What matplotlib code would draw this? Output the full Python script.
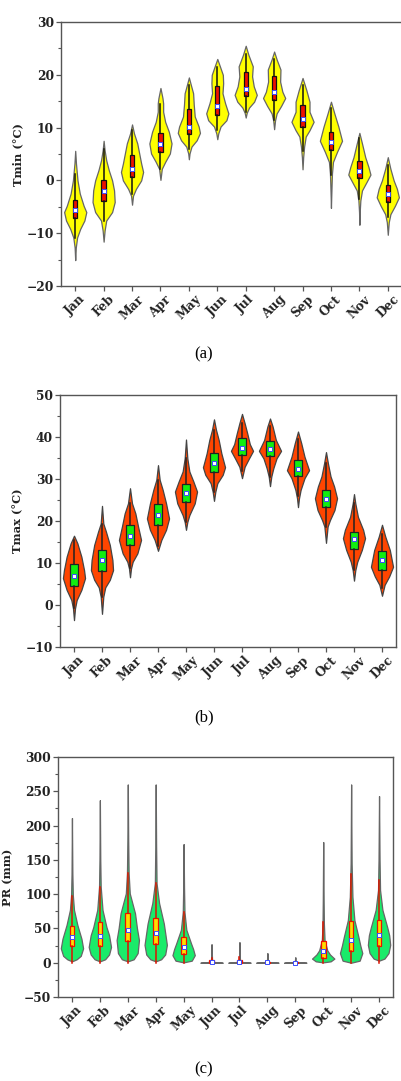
import numpy as np
import matplotlib
matplotlib.use("Agg")
import matplotlib.pyplot as plt
from matplotlib.ticker import MultipleLocator

plt.rcParams['font.family'] = ['DejaVu Serif']

months = ['Jan', 'Feb', 'Mar', 'Apr', 'May', 'Jun',
          'Jul', 'Aug', 'Sep', 'Oct', 'Nov', 'Dec']

# ---------------- (a) Tmin ----------------
tmin_q1 = [-7.2, -3.9, 0.6, 5.3, 8.7, 12.3, 15.9, 15.2, 10.2, 5.7, 0.5, -4.0]
tmin_med = [-5.7, -2.1, 2.2, 6.9, 10.2, 14.0, 17.3, 16.7, 11.6, 7.3, 1.7, -2.5]
tmin_q3 = [-3.8, 0.0, 4.8, 8.9, 13.5, 17.8, 20.6, 19.7, 14.3, 9.1, 3.6, -0.8]
tmin_wlo = [-11.0, -7.6, -2.5, 2.2, 6.0, 9.5, 13.0, 11.5, 5.5, 1.0, -3.5, -7.0]
tmin_whi = [1.3, 6.0, 9.5, 14.5, 18.0, 21.5, 24.0, 23.0, 18.0, 13.8, 8.0, 3.0]
tmin_dens_y = [
    [5.6, 3.2, 0.0, -2.5, -4.8, -6.0, -7.6, -9.2, -10.8, -12.7, -15.1],
    [7.5, 5.7, 3.8, 1.9, 0.0, -1.9, -4.1, -6.0, -7.6, -9.5, -11.6],
    [10.6, 8.9, 7.0, 5.1, 3.2, 1.6, 0.0, -1.6, -2.9, -4.6],
    [17.5, 15.6, 14.6, 13.0, 11.1, 9.2, 7.0, 5.1, 3.5, 2.2, 0.1],
    [19.5, 18.1, 16.5, 14.3, 12.1, 10.2, 9.0, 7.6, 6.4, 5.1, 4.0],
    [23.0, 21.6, 20.0, 18.4, 16.5, 14.6, 12.7, 11.4, 10.2, 8.9, 7.8],
    [25.5, 23.8, 21.6, 19.7, 17.8, 16.2, 14.9, 13.8, 12.8, 11.9],
    [24.4, 22.9, 21.0, 18.7, 16.8, 15.6, 14.1, 12.7, 11.4, 9.7],
    [19.4, 17.1, 14.9, 13.0, 11.1, 9.5, 8.3, 6.4, 4.4, 2.1],
    [14.9, 12.7, 10.2, 7.5, 5.4, 3.5, 1.3, -0.6, -3.2, -5.2],
    [9.0, 7.0, 4.4, 2.5, 1.1, -0.3, -1.9, -3.8, -6.0, -8.4],
    [4.4, 2.2, 0.0, -1.6, -3.2, -4.8, -6.4, -7.9, -10.3],
]
tmin_dens_w = [
    [0, 2, 6, 12, 22, 29, 24, 13, 5, 1.5, 0],
    [0, 3, 8, 16, 26, 32, 34, 26, 8, 3, 0],
    [0, 6, 16, 22, 28, 34, 28, 12, 3, 0],
    [0, 6, 8, 8, 14, 25, 33, 28, 14, 4, 0],
    [0, 6, 13, 15, 18, 30, 34, 24, 8, 2, 0],
    [0, 8, 17, 18, 16, 24, 34, 28, 10, 3, 0],
    [0, 8, 21, 19, 24, 33, 25, 10, 3, 0],
    [0, 8, 20, 19, 26, 35, 22, 8, 3, 0],
    [0, 12, 22, 22, 35, 22, 10, 5, 2, 0],
    [0, 10, 22, 33, 18, 6, 3, 2, 0.8, 0],
    [0, 8, 18, 28, 34, 22, 8, 3, 1, 0],
    [0, 8, 18, 28, 34, 22, 8, 3, 0],
]

# ---------------- (b) Tmax ----------------
tmax_q1 = [4.6, 8.2, 14.2, 19.0, 24.6, 31.7, 35.6, 35.5, 30.7, 23.3, 13.3, 8.3]
tmax_med = [6.9, 10.6, 16.4, 21.4, 26.7, 33.7, 37.5, 37.1, 32.5, 25.2, 15.6, 10.6]
tmax_q3 = [9.7, 13.1, 19.0, 24.0, 28.7, 36.1, 39.7, 39.1, 34.5, 27.4, 17.5, 12.9]
tmax_wlo = [-0.8, 2.0, 8.7, 14.0, 19.8, 27.0, 32.0, 30.5, 26.0, 18.6, 8.3, 4.0]
tmax_whi = [15.5, 19.4, 24.2, 29.8, 35.0, 41.7, 43.3, 42.5, 39.5, 33.7, 24.2, 17.0]
tmax_dens_y = [
    [16.5, 14.7, 11.5, 8.3, 6.4, 3.6, 1.2, -0.8, -3.6],
    [23.6, 19.4, 17.5, 14.3, 10.7, 8.3, 6.0, 4.2, 2.0, -2.1],
    [27.8, 24.2, 21.8, 18.7, 15.5, 12.3, 10.3, 8.7, 6.6],
    [33.3, 29.8, 27.4, 24.2, 20.6, 17.9, 15.5, 12.9],
    [39.4, 34.9, 31.8, 29.4, 27.0, 24.2, 21.4, 19.8, 17.9],
    [44.2, 41.7, 39.3, 36.1, 32.8, 31.0, 29.0, 27.0, 24.8],
    [45.5, 43.3, 40.9, 38.3, 36.7, 34.7, 32.9, 30.2],
    [44.4, 42.5, 39.3, 36.7, 34.9, 32.5, 30.6, 28.3],
    [41.3, 38.5, 35.3, 32.1, 30.2, 27.4, 25.4, 23.3],
    [36.4, 33.7, 30.6, 28.2, 25.4, 22.6, 20.2, 18.7, 14.8],
    [26.4, 24.2, 21.0, 17.9, 15.9, 13.1, 10.3, 8.3, 5.8],
    [19.1, 16.3, 13.1, 9.1, 6.8, 4.8, 2.2],
]
tmax_dens_w = [
    [0, 10, 22, 30, 33, 22, 8, 3, 0],
    [0, 4, 12, 24, 32, 34, 24, 10, 4, 0],
    [0, 6, 16, 24, 33, 22, 8, 3, 0],
    [0, 5, 14, 24, 33, 24, 10, 0],
    [0, 4, 10, 22, 33, 26, 10, 4, 0],
    [0, 6, 14, 22, 33, 26, 10, 4, 0],
    [0, 8, 16, 24, 34, 20, 8, 0],
    [0, 8, 18, 34, 20, 10, 4, 0],
    [0, 10, 20, 34, 20, 8, 3, 0],
    [0, 6, 14, 25, 34, 26, 12, 5, 0],
    [0, 4, 12, 28, 34, 24, 10, 4, 0],
    [0, 10, 24, 34, 22, 8, 0],
]

# ---------------- (c) PR ----------------
pr_q1 = [24, 24, 32, 28, 13, 0.2, 0.2, 0.0, 0.0, 7, 17, 24]
pr_med = [38, 39, 47, 44, 23, 1.5, 1.5, 0.5, 0.3, 17.5, 33, 40]
pr_q3 = [54, 59, 72, 65, 37, 4.5, 4.0, 1.0, 0.8, 32, 61, 63]
pr_wlo = [0, 0, 0, 0, 0, 0, 0, 0, 0, 0, 0, 0]
pr_whi = [98, 110, 131, 116, 74, 7, 8, 2, 1, 60, 130, 121]
pr_dens_y = [
    [2, 5, 10, 21, 35, 55, 77, 99, 130, 211],
    [2, 5, 12, 23, 40, 52, 77, 111, 150, 237],
    [2, 5, 14, 33, 50, 72, 101, 131, 180, 260],
    [2, 5, 12, 26, 40, 57, 87, 116, 170, 260],
    [0.5, 3, 11, 20, 28, 48, 74, 110, 173],
    [0, 1, 2, 5, 12, 27],
    [0, 1, 2, 5, 12, 30],
    [0, 1, 2, 5, 14],
    [0, 1, 2, 4, 8],
    [0.5, 2, 6, 12, 18, 33, 57, 90, 176],
    [0, 3, 14, 25, 38, 62, 96, 145, 260],
    [3, 6, 14, 26, 40, 52, 77, 106, 150, 243],
]
pr_dens_w = [
    [0, 14, 26, 33, 28, 16, 6, 2.5, 1.2, 0],
    [0, 16, 28, 34, 28, 20, 8, 2.5, 1.2, 0],
    [0, 18, 30, 34, 28, 22, 6, 2.5, 1.2, 0],
    [0, 16, 28, 33, 29, 24, 10, 2.5, 1.2, 0],
    [0, 24, 33, 28, 22, 8, 2.5, 1.2, 0],
    [35, 10, 3, 1.5, 1, 0],
    [35, 10, 3, 1.5, 1, 0],
    [35, 8, 2, 1, 0],
    [35, 8, 2, 1, 0],
    [0, 22, 33, 20, 12, 4, 2, 1.2, 0],
    [0, 26, 34, 28, 22, 10, 4, 1.5, 0],
    [0, 16, 28, 33, 30, 24, 10, 3, 1.5, 0],
]

W, H = 401, 1081
fig = plt.figure(figsize=(W / 100, H / 100), dpi=100)


def make_axes(l, r, t, b):
    return fig.add_axes([l / W, 1 - b / H, (r - l) / W, (b - t) / H])


def panel(ax, q1, med, q3, wlo, whi, dy, dw, vcol, vedge, bcol, bedge, wcol,
          vwidth, bwidth, ylim, major, minor, ylabel, labx):
    pos = np.arange(1, 13)
    stats = []
    for i in range(12):
        y = np.array(dy[i], float)
        w = np.array(dw[i], float)
        order = np.argsort(y)
        stats.append(dict(coords=y[order], vals=w[order], mean=med[i],
                          median=med[i], min=y.min(), max=y.max()))
    vp = ax.violin(stats, positions=pos, widths=vwidth, showmeans=False,
                   showextrema=False, showmedians=False)
    for body in vp['bodies']:
        body.set_facecolor(vcol)
        body.set_edgecolor(vedge)
        body.set_linewidth(0.9)
        body.set_alpha(1)
    bstats = [dict(med=med[i], q1=q1[i], q3=q3[i], whislo=wlo[i],
                   whishi=whi[i], mean=med[i], fliers=[]) for i in range(12)]
    ax.bxp(bstats, positions=pos, widths=bwidth, patch_artist=True,
           showmeans=True, showcaps=False, showfliers=False,
           boxprops=dict(facecolor=bcol, edgecolor=bedge, linewidth=0.9),
           whiskerprops=dict(color=wcol, linewidth=1.1),
           medianprops=dict(linewidth=0),
           meanprops=dict(marker='s', markersize=2.6, markerfacecolor='white',
                          markeredgecolor='#3a4cff', markeredgewidth=0.7),
           zorder=3)
    ax.set_xlim(0.5, 12.5)
    ax.set_ylim(*ylim)
    ax.set_xticks(pos)
    ax.set_xticklabels(months, rotation=45, fontweight='bold', fontsize=8.8)
    ax.yaxis.set_major_locator(MultipleLocator(major))
    ax.yaxis.set_minor_locator(MultipleLocator(minor))
    for lab in ax.get_yticklabels():
        lab.set_fontweight('bold')
        lab.set_fontsize(8.8)
    ax.tick_params(axis='both', which='major', direction='out', length=3.5,
                   width=0.9, color='#555555', pad=1.5, labelcolor='#222222')
    ax.tick_params(axis='y', which='minor', direction='out', length=2,
                   width=0.8, color='#555555')
    for sp in ax.spines.values():
        sp.set_color('#555555')
        sp.set_linewidth(1.0)
    ax.set_ylabel(ylabel, fontweight='bold', fontsize=8.2, color='#222222')
    ax.yaxis.set_label_coords(labx, 0.5)


ax1 = make_axes(61, 402, 22, 286)
panel(ax1, tmin_q1, tmin_med, tmin_q3, tmin_wlo, tmin_whi, tmin_dens_y,
      tmin_dens_w, '#ffff00', '#666666', '#ee1100', '#111111', '#111111',
      0.78, 0.15, (-20, 30), 10, 5, 'Tmin (°C)', -0.112)

ax2 = make_axes(60, 396, 395, 647)
panel(ax2, tmax_q1, tmax_med, tmax_q3, tmax_wlo, tmax_whi, tmax_dens_y,
      tmax_dens_w, '#ff4500', '#444444', '#11ee11', '#222222', '#222222',
      0.79, 0.26, (-10, 50), 10, 5, 'Tmax (°C)', -0.108)

ax3 = make_axes(58, 393, 757, 997)
panel(ax3, pr_q1, pr_med, pr_q3, pr_wlo, pr_whi, pr_dens_y, pr_dens_w,
      '#1aeb6a', '#666666', '#ffdd00', '#ee1100', '#dd1100',
      0.80, 0.17, (-50, 300), 50, 25, 'PR (mm)', -0.135)

for txt, yc in [('(a)', 354), ('(b)', 717), ('(c)', 1069)]:
    fig.text(204 / W, 1 - yc / H, txt, ha='center', va='center',
             fontsize=12, family=['Liberation Serif', 'DejaVu Serif'])

fig.savefig('out.png', dpi=100)
